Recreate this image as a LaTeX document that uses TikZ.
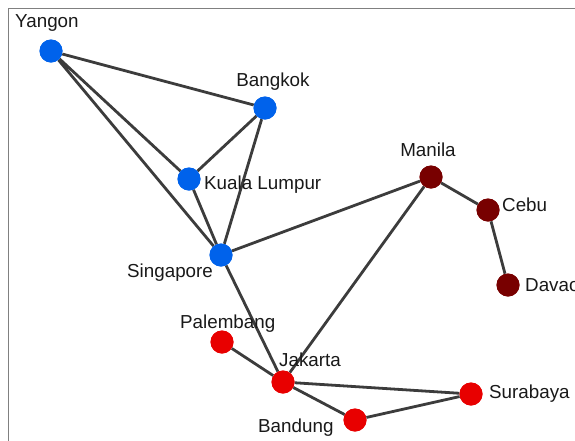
\documentclass[tikz,border=0pt]{standalone}
\usepackage{fontspec}
\setmainfont{Liberation Sans}
\begin{document}
\begin{tikzpicture}[x=1pt,y=-1pt,
  city/.style={circle,minimum size=23pt,inner sep=0pt},
  blue city/.style={city,fill={rgb,255:red,0;green,98;blue,235}},
  red city/.style={city,fill={rgb,255:red,232;green,0;blue,0}},
  dark city/.style={city,fill={rgb,255:red,120;green,0;blue,0}},
  lbl/.style={font=\fontsize{18.8}{21}\selectfont,text=black!90,inner sep=0pt},
  edge/.style={draw={rgb,255:red,60;green,60;blue,60},line width=2.8pt}]
\useasboundingbox (0,0) rectangle (575,440);
\clip (0,0) rectangle (575,440);
\draw[gray,line width=1pt] (8,460) -- (8,8) -- (600,8);
% nodes
\node[blue city] (yangon) at (51,51) {};
\node[blue city] (bangkok) at (265,108) {};
\node[blue city] (kl) at (189,179) {};
\node[blue city] (sing) at (221,255) {};
\node[dark city] (manila) at (431,177) {};
\node[dark city] (cebu) at (488,210) {};
\node[dark city] (davao) at (508,285) {};
\node[red city] (palem) at (222,342) {};
\node[red city] (jakarta) at (283,382) {};
\node[red city] (surabaya) at (471,394) {};
\node[red city] (bandung) at (355,420) {};
% edges
\path[edge] (yangon) -- (bangkok) (yangon) -- (kl) (yangon) -- (sing)
  (bangkok) -- (kl) (bangkok) -- (sing) (kl) -- (sing)
  (sing) -- (manila) (sing) -- (jakarta) (manila) -- (cebu) (cebu) -- (davao)
  (manila) -- (jakarta) (palem) -- (jakarta) (jakarta) -- (surabaya)
  (jakarta) -- (bandung) (bandung) -- (surabaya);
% redraw nodes on top
\node[blue city] at (yangon) {};
\node[blue city] at (bangkok) {};
\node[blue city] at (kl) {};
\node[blue city] at (sing) {};
\node[dark city] at (manila) {};
\node[dark city] at (cebu) {};
\node[dark city] at (davao) {};
\node[red city] at (palem) {};
\node[red city] at (jakarta) {};
\node[red city] at (surabaya) {};
\node[red city] at (bandung) {};
% labels
\node[lbl,anchor=west] (lyangon) at (15,23) {Yangon};
\node[lbl] (lbangkok) at (273,82) {Bangkok};
\node[lbl,anchor=west] (lkl) at (204,185) {Kuala Lumpur};
\node[lbl,anchor=west] (lsing) at (127,273) {Singapore};
\node[lbl] (lmanila) at (428,150) {Manila};
\node[lbl,anchor=west] (lcebu) at (502,205) {Cebu};
\node[lbl,anchor=west] (ldavao) at (525,285) {Davao};
\node[lbl,anchor=west] (lpalem) at (180,324) {Palembang};
\node[lbl,anchor=west] (ljakarta) at (279,360) {Jakarta};
\node[lbl,anchor=west] (lsurabaya) at (489,394) {Surabaya};
\node[lbl,anchor=west] (lbandung) at (258,428) {Bandung};
\end{tikzpicture}
\end{document}
